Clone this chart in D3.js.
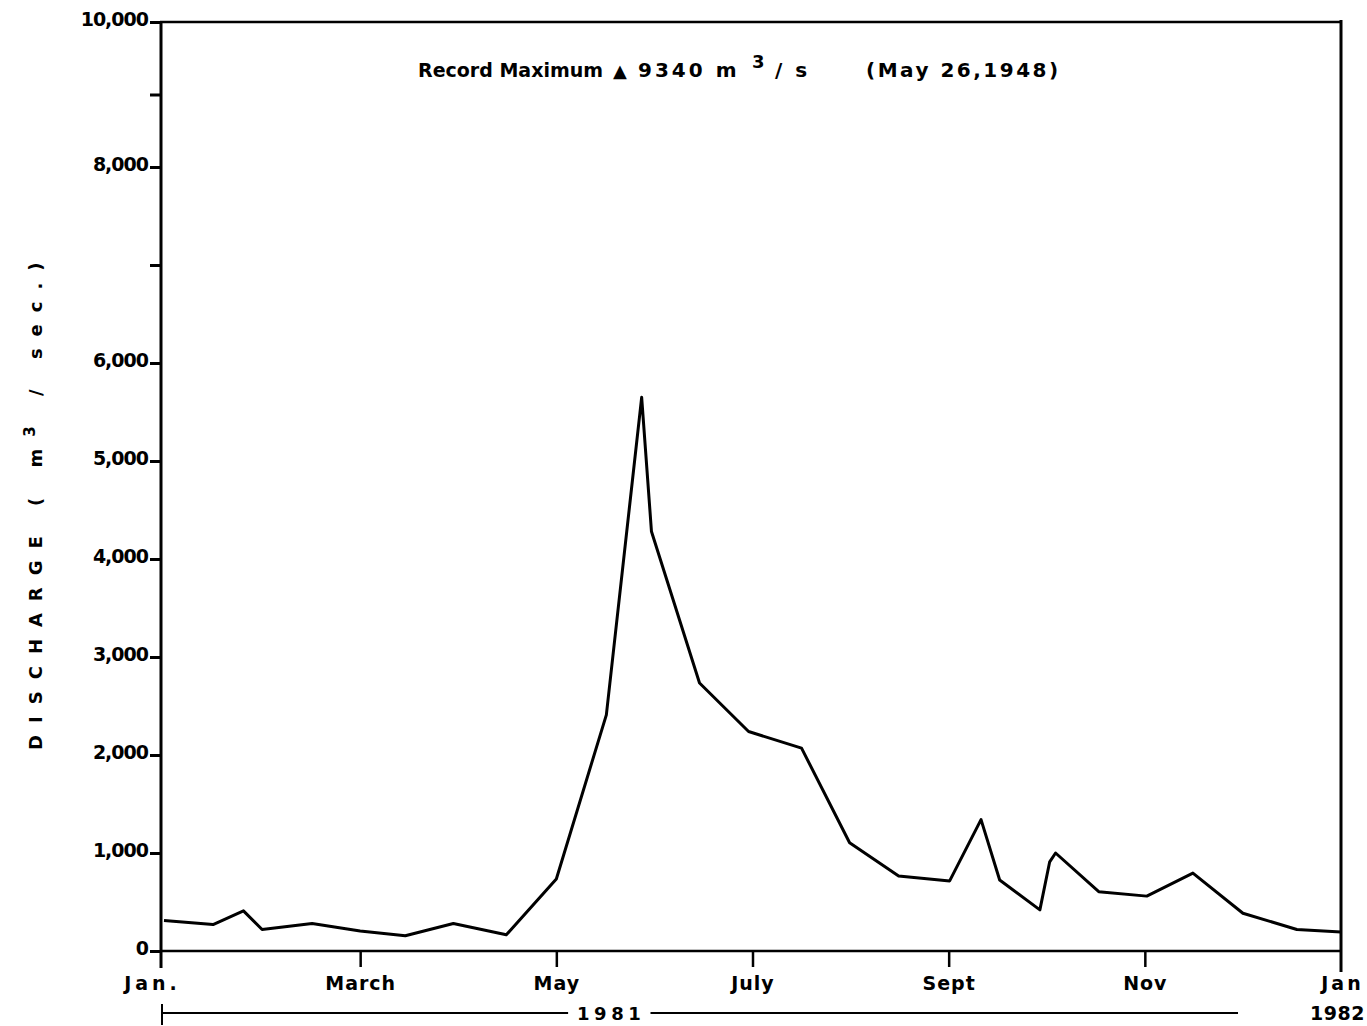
<!DOCTYPE html>
<html>
<head>
<meta charset="utf-8">
<script src="https://cdn.jsdelivr.net/npm/d3@7"></script>
<style>
  body { margin: 0; background: #fff; }
  svg text { font-family: "DejaVu Sans", sans-serif; font-weight: bold; fill: #000; }
</style>
</head>
<body>
<div id="viz"></div>
<script>
// data (month index: 0 = Jan 1981, 12 = Jan 1982)
const months = [0, 0.5, 0.81, 1, 1.51, 2, 2.46, 2.95, 3.49, 4, 4.51, 4.87, 4.97, 5.46, 5.96,
  6.5, 6.99, 7.49, 8.01, 8.33, 8.52, 8.93, 9.03, 9.09, 9.53, 10.02, 10.49, 11, 11.55, 12];
const discharge = [310, 270, 410, 220, 280, 205, 155, 280, 165, 735, 2410, 5650, 4280, 2735, 2240,
  2070, 1105, 765, 715, 1340, 725, 420, 910, 1000, 605, 560, 795, 385, 220, 195];

const monthTicks = [0, 2, 4, 6, 8, 10, 12];
const monthLabels = ['Jan.', 'March', 'May', 'July', 'Sept', 'Nov', 'Jan'];
const yTicks = [0, 1000, 2000, 3000, 4000, 5000, 6000, 7000, 8000, 9000, 10000];
const yLabelled = [0, 1000, 2000, 3000, 4000, 5000, 6000, 8000, 10000];

const width = 1367, height = 1026;

// x: evenly spaced months; y: linear to 8000, compressed above
const x = d3.scaleLinear().domain([0, 12]).range([164, 1341]);
const y = d3.scaleLinear().domain([0, 8000, 10000]).range([951, 167, 22]);

const svg = d3.select('#viz').append('svg')
  .attr('width', width)
  .attr('height', height);

// frame
const frame = svg.append('g').attr('stroke', '#000').attr('fill', 'none');
frame.append('line') // top
  .attr('x1', x(0) - 4).attr('x2', x(12)).attr('y1', y(10000)).attr('y2', y(10000))
  .attr('stroke-width', 2.5);
frame.append('line') // left, runs past the base as the Jan tick
  .attr('x1', x(0) - 3).attr('x2', x(0) - 3).attr('y1', y(10000)).attr('y2', y(0) + 17)
  .attr('stroke-width', 3);
frame.append('line') // right
  .attr('x1', x(12)).attr('x2', x(12)).attr('y1', y(10000) - 2).attr('y2', y(0) + 21)
  .attr('stroke-width', 3);
frame.append('line') // base
  .attr('x1', x(0) - 3).attr('x2', x(12)).attr('y1', y(0)).attr('y2', y(0))
  .attr('stroke-width', 2.5);

// y axis
const yAxis = svg.append('g')
  .attr('transform', `translate(${x(0) - 3},0)`)
  .call(d3.axisLeft(y)
    .tickValues(yTicks)
    .tickSize(11)
    .tickPadding(2)
    .tickFormat(d => yLabelled.includes(d) ? d3.format(',')(d) : ''));
yAxis.select('.domain').remove();
yAxis.selectAll('.tick line').attr('stroke', '#000').attr('stroke-width', 3);
yAxis.selectAll('.tick text')
  .attr('font-size', 19)
  .attr('font-family', '"DejaVu Sans", sans-serif')
  .attr('font-weight', 'bold')
  .attr('letter-spacing', -1)
  .attr('dy', '0.2em');

// x axis (inner months only get ticks; Jan ends are the frame)
const xAxis = svg.append('g')
  .attr('transform', `translate(0,${y(0)})`)
  .call(d3.axisBottom(x)
    .tickValues(monthTicks)
    .tickSize(16)
    .tickPadding(10)
    .tickFormat((d, i) => monthLabels[i]));
xAxis.select('.domain').remove();
xAxis.selectAll('.tick line')
  .attr('stroke', '#000')
  .attr('stroke-width', 2.5)
  .attr('display', d => (d === 0 || d === 12) ? 'none' : null);
xAxis.selectAll('.tick text')
  .attr('font-size', 19)
  .attr('font-family', '"DejaVu Sans", sans-serif')
  .attr('font-weight', 'bold')
  .attr('letter-spacing', d => d === 0 ? 4 : (d === 12 ? 3 : 1))
  .attr('dx', d => d === 0 ? -12 : (d === 12 ? 1 : 0));

svg.append('text')
  .attr('x', width - 2).attr('y', y(0) + 69)
  .attr('text-anchor', 'end')
  .attr('font-size', 19)
  .attr('letter-spacing', 0.5)
  .text('1982');

// year bar
const yearY = y(0) + 62;
const year = svg.append('g').attr('stroke', '#000').attr('stroke-width', 2);
year.append('line').attr('x1', x(0) - 2).attr('x2', x(4.12)).attr('y1', yearY).attr('y2', yearY);
year.append('line').attr('x1', x(4.96)).attr('x2', x(10.95)).attr('y1', yearY).attr('y2', yearY);
year.append('line').attr('x1', x(0) - 2).attr('x2', x(0) - 2).attr('y1', yearY - 9).attr('y2', yearY + 12);
svg.append('text')
  .attr('x', x(4.12) + 9).attr('y', yearY + 7)
  .attr('font-size', 18)
  .attr('letter-spacing', 4.5)
  .text('1981');

// y label
const ylab = svg.append('text')
  .attr('transform', `translate(42,${y(4600)}) rotate(-90)`)
  .attr('text-anchor', 'middle')
  .attr('font-size', 18)
  .attr('letter-spacing', 12);
ylab.append('tspan').text('DISCHARGE ( m');
ylab.append('tspan').attr('dy', -7).attr('font-size', 15).text('3');
ylab.append('tspan').attr('dy', 7).text(' / sec.)');

// record maximum note
const note = svg.append('text')
  .attr('y', 77)
  .attr('font-size', 20);
note.append('tspan').attr('x', 418).attr('font-size', 19).text('Record Maximum');
note.append('tspan').attr('x', 613).attr('font-size', 18).text('\u25B2');
note.append('tspan').attr('x', 638).attr('letter-spacing', 3).text('9340 m');
note.append('tspan').attr('x', 752).attr('dy', -9).attr('font-size', 18).text('3');
note.append('tspan').attr('x', 775).attr('dy', 9).attr('letter-spacing', 3).text('/ s');
note.append('tspan').attr('x', 866).attr('letter-spacing', 2.5).text('(May 26,1948)');

// discharge line
const line = d3.line()
  .x((d, i) => x(months[i]))
  .y(d => y(d));
svg.append('path')
  .datum(discharge)
  .attr('fill', 'none')
  .attr('stroke', '#000')
  .attr('stroke-width', 3)
  .attr('stroke-linejoin', 'round')
  .attr('d', line);
</script>
</body>
</html>
